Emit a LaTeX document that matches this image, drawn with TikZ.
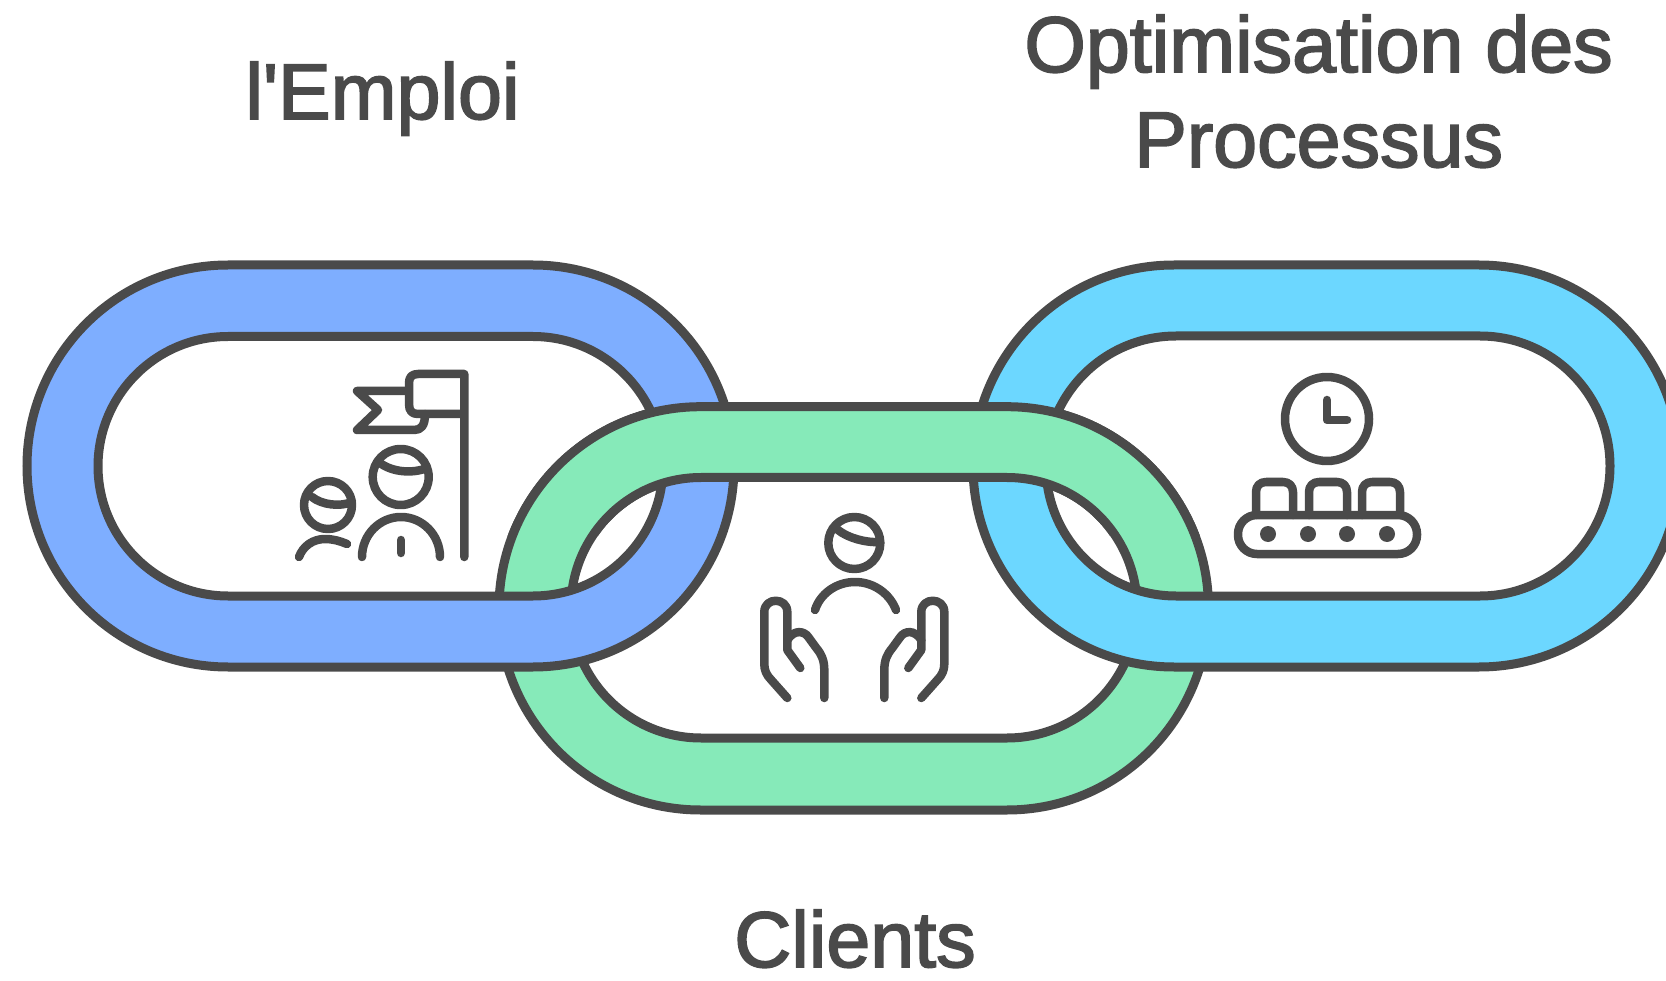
\documentclass[tikz,border=0pt]{standalone}
\usepackage{fontspec}
\setmainfont{Liberation Sans}
\newfontfamily\labfont{Liberation Sans}[FakeBold=2.2]
\definecolor{ink}{HTML}{4A4A4A}
\definecolor{linkblue}{HTML}{7EAEFF}
\definecolor{linkgreen}{HTML}{86EAB9}
\definecolor{linkcyan}{HTML}{6CD7FF}
\tikzset{
  ringline/.style={draw=ink,line width=9pt,even odd rule},
  icon/.style={draw=ink,line width=8.5pt,line cap=round,line join=round},
  label/.style={text=ink,font=\labfont\fontsize{79}{95}\selectfont,align=center,inner sep=0pt,anchor=base}
}
\newcommand{\greenring}{[rounded corners=201.5pt] (499,406.7) rectangle (1208.5,810) [rounded corners=130pt] (571,477.5) rectangle (1137,738)}
\begin{document}
\begin{tikzpicture}[x=1pt,y=-1pt]
\useasboundingbox (0,0) rectangle (1666,981);
\clip (0,0) rectangle (1666,981);
\fill[white] (0,0) rectangle (1666,981);
% rings, woven
\path[ringline,fill=linkgreen] \greenring;
\path[ringline,fill=linkblue] [rounded corners=201pt] (27,265) rectangle (734,667) [rounded corners=130pt] (98,336.5) rectangle (663,596);
\path[ringline,fill=linkcyan] [rounded corners=201pt] (973,265) rectangle (1680,667) [rounded corners=130pt] (1046,336) rectangle (1610,596);
\begin{scope}
\clip (0,0) rectangle (1666,535);
\path[ringline,fill=linkgreen] \greenring;
\end{scope}
% flag and two people
\draw[icon] (464.3,557) -- (464.3,374) -- (418,374) .. controls (412,374) and (409,377) .. (409,383) -- (409,404) .. controls (409,411) and (412,414) .. (418,414) -- (464.3,414);
\draw[icon] (407,391) -- (357,391) -- (378,410) -- (357,430) -- (414,430) .. controls (421,430) and (425,426) .. (425,414);
\draw[icon] (400.7,477) circle[radius=28];
\draw[icon] (380,463) .. controls (392,472) and (412,474) .. (427,468);
\draw[icon] (362,557) .. controls (362,535) and (379.5,517) .. (401,517) .. controls (422.5,517) and (440,535) .. (440,557);
\draw[icon] (401,540) -- (401,553);
\draw[icon] (328,505) circle[radius=24];
\draw[icon] (312,497) .. controls (322,505) and (340,507) .. (352,502);
\draw[icon] (299,557) .. controls (303,546) and (313,539) .. (325,539) .. controls (333,539) and (340,541) .. (347,544);
% person in hands
\draw[icon] (854.3,543) circle[radius=26];
\draw[icon] (838,530) .. controls (848,538) and (866,543) .. (880,542);
\draw[icon] (815,610) .. controls (820,594) and (836,582) .. (855,582) .. controls (874,582) and (890,594) .. (896,610);
\foreach \m in {1,-1}{
\begin{scope}[xshift=854.3pt,xscale=\m]
\draw[icon] (-67,698) -- (-83,680) .. controls (-88,675) and (-90,670) .. (-90,664) -- (-90,612) .. controls (-90,597) and (-67,597) .. (-67,612) -- (-67,650) -- (-54,668);
\draw[icon] (-30,698) -- (-30,670) .. controls (-30,660) and (-33,654) .. (-38,648) -- (-46,637) .. controls (-50,631) and (-60,629) .. (-67,640);
\end{scope}}
% clock and conveyor
\draw[icon] (1327,419) circle[radius=42];
\draw[icon] (1327,400) -- (1327,420) -- (1347,420);
\draw[icon,rounded corners=19pt] (1238,515) rectangle (1417,554);
\draw[icon] (1256,515) -- (1256,492) .. controls (1256,486) and (1260,482) .. (1266,482) -- (1283,482) .. controls (1289,482) and (1293,486) .. (1293,492) -- (1293,515);
\draw[icon] (1309,515) -- (1309,492) .. controls (1309,486) and (1313,482) .. (1319,482) -- (1337,482) .. controls (1343,482) and (1347,486) .. (1347,492) -- (1347,515);
\draw[icon] (1362,515) -- (1362,492) .. controls (1362,486) and (1366,482) .. (1372,482) -- (1390,482) .. controls (1396,482) and (1400,486) .. (1400,492) -- (1400,515);
\foreach \px in {1268,1308,1347,1387}{\fill[ink] (\px,534) circle[radius=8];}
% labels
\node[label] (emploi) at (382.5,119) {l'Emploi};
\node[label] (optim) at (1318.6,72) {Optimisation des};
\node[label] (proc) at (1318.6,167) {Processus};
\node[label] (clients) at (855,967) {Clients};
\end{tikzpicture}
\end{document}
